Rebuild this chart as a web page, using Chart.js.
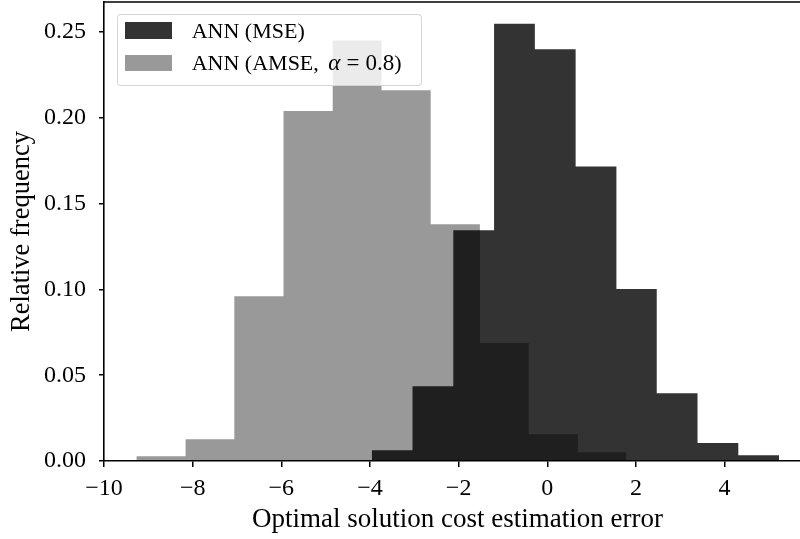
<!DOCTYPE html>
<html>
<head>
<meta charset="utf-8">
<script src="https://cdn.jsdelivr.net/npm/chart.js@4.4.1/dist/chart.umd.min.js"></script>
<style>
  html, body { margin: 0; padding: 0; background: #fff; width: 800px; height: 539px; overflow: hidden; }
  #wrap { position: relative; width: 812px; height: 539px; }
  #c { position: absolute; left: 0; top: 0; }
  #legend {
    position: absolute; left: 116.7px; top: 14px; width: 305px; height: 72px;
    box-sizing: border-box; border: 1.3px solid rgba(204,204,204,0.8); border-radius: 4px;
    background: rgba(255,255,255,0.8);
    font-family: "Liberation Serif", "Times New Roman", serif; font-size: 22px; color: #000;
  }
  .patch { position: absolute; left: 7px; width: 47px; height: 16.7px; }
  .lab { position: absolute; left: 74px; line-height: 22px; white-space: nowrap; }
  .math { font-size: 23px; }
  .alpha { font-style: italic; margin: 0 0 0 4px; }
  .eq { margin: 0 6px; }
</style>
</head>
<body>
<div id="wrap">
  <canvas id="c" width="812" height="539"></canvas>
  <div id="legend">
    <div class="patch" style="top:7.4px;background:rgba(0,0,0,0.8)"></div>
    <div class="lab" style="top:4.6px">ANN (MSE)</div>
    <div class="patch" style="top:39.7px;background:rgba(0,0,0,0.4)"></div>
    <div class="lab" style="top:36.9px">ANN (AMSE, <span class="math"><span class="alpha">α</span><span class="eq">=</span>0.8</span>)</div>
  </div>
</div>
<script>
// ---- data ----
const xTicks = [-10, -8, -6, -4, -2, 0, 2, 4];
const yTicks = [0, 0.05, 0.10, 0.15, 0.20, 0.25];

// ANN (MSE): bin edges and relative frequencies
const mseEdges = [-3.96, -3.04, -2.12, -1.20, -0.28, 0.64, 1.56, 2.47, 3.39, 4.31, 5.23];
const mseFreq  = [0.0062, 0.0436, 0.1345, 0.2548, 0.2400, 0.1716, 0.1002, 0.0395, 0.0105, 0.0033];

// ANN (AMSE, alpha = 0.8): bin edges and relative frequencies
const amseEdges = [-9.27, -8.16, -7.06, -5.95, -4.84, -3.74, -2.63, -1.52, -0.42, 0.69, 1.79];
const amseFreq  = [0.0027, 0.0127, 0.0960, 0.2040, 0.2450, 0.2160, 0.1380, 0.0688, 0.0156, 0.0051];

const seriesNames = ['ANN (MSE)', 'ANN (AMSE, α = 0.8)'];

// ---- build step-histogram point tables from the arrays ----
function histPoints(edges, freq) {
  const pts = freq.map((v, i) => ({ x: edges[i], y: v }));
  pts.push({ x: edges[edges.length - 1], y: freq[freq.length - 1] });
  return pts;
}

const FONT = '"Liberation Serif", "Times New Roman", serif';
const minusFmt = v => (v < 0 ? '\u2212' + Math.abs(v) : String(v));

const frame = {
  id: 'frame',
  afterDraw(chart) {
    const { ctx, chartArea: { left, right, top, bottom } } = chart;
    ctx.save();
    ctx.strokeStyle = '#000';
    ctx.lineWidth = 1.6;
    ctx.beginPath();
    ctx.moveTo(left, top);
    ctx.lineTo(right, top);
    ctx.lineTo(right, bottom);
    ctx.stroke();
    ctx.restore();
  }
};

new Chart(document.getElementById('c'), {
  type: 'line',
  data: {
    datasets: [
      {
        label: seriesNames[0],
        data: histPoints(mseEdges, mseFreq),
        stepped: 'before',
        fill: 'origin',
        backgroundColor: 'rgba(0,0,0,0.8)',
        borderColor: 'rgba(0,0,0,0)',
        borderWidth: 0,
        pointRadius: 0,
        pointHoverRadius: 0
      },
      {
        label: seriesNames[1],
        data: histPoints(amseEdges, amseFreq),
        stepped: 'before',
        fill: 'origin',
        backgroundColor: 'rgba(0,0,0,0.4)',
        borderColor: 'rgba(0,0,0,0)',
        borderWidth: 0,
        pointRadius: 0,
        pointHoverRadius: 0
      }
    ]
  },
  options: {
    responsive: false,
    devicePixelRatio: 1,
    animation: false,
    events: [],
    layout: { padding: { top: 2, right: 1, left: 0, bottom: 0 } },
    plugins: { legend: { display: false }, tooltip: { enabled: false } },
    scales: {
      x: {
        type: 'linear',
        min: -10,
        max: 5.95,
        z: 1,
        afterBuildTicks: s => { s.ticks = xTicks.map(v => ({ value: v })); },
        afterFit: s => { s.height = 78; s.paddingLeft = 0; s.paddingRight = 0; },
        grid: { drawOnChartArea: false, drawTicks: true, tickLength: 6, color: '#000', lineWidth: 1.5 },
        border: { display: true, color: '#000', width: 1.6 },
        ticks: { color: '#000', padding: 7, font: { family: FONT, size: 24 }, callback: v => minusFmt(v), maxRotation: 0, autoSkip: false },
        title: { display: true, text: 'Optimal solution cost estimation error', color: '#000', font: { family: FONT, size: 27 }, padding: { top: 0, bottom: 3 } }
      },
      y: {
        type: 'linear',
        min: 0,
        max: 0.2675,
        z: 1,
        afterBuildTicks: s => { s.ticks = yTicks.map(v => ({ value: v })); },
        afterFit: s => { s.width = 104; s.paddingTop = 0; s.paddingBottom = 0; },
        grid: { drawOnChartArea: false, drawTicks: true, tickLength: 5, color: '#000', lineWidth: 1.5 },
        border: { display: true, color: '#000', width: 1.6 },
        ticks: { color: '#000', padding: 13, font: { family: FONT, size: 24 }, callback: v => v.toFixed(2), autoSkip: false },
        title: { display: true, text: 'Relative frequency', color: '#000', font: { family: FONT, size: 26.5 }, padding: { top: 6, bottom: 0 } }
      }
    }
  },
  plugins: [frame]
});
</script>
</body>
</html>
